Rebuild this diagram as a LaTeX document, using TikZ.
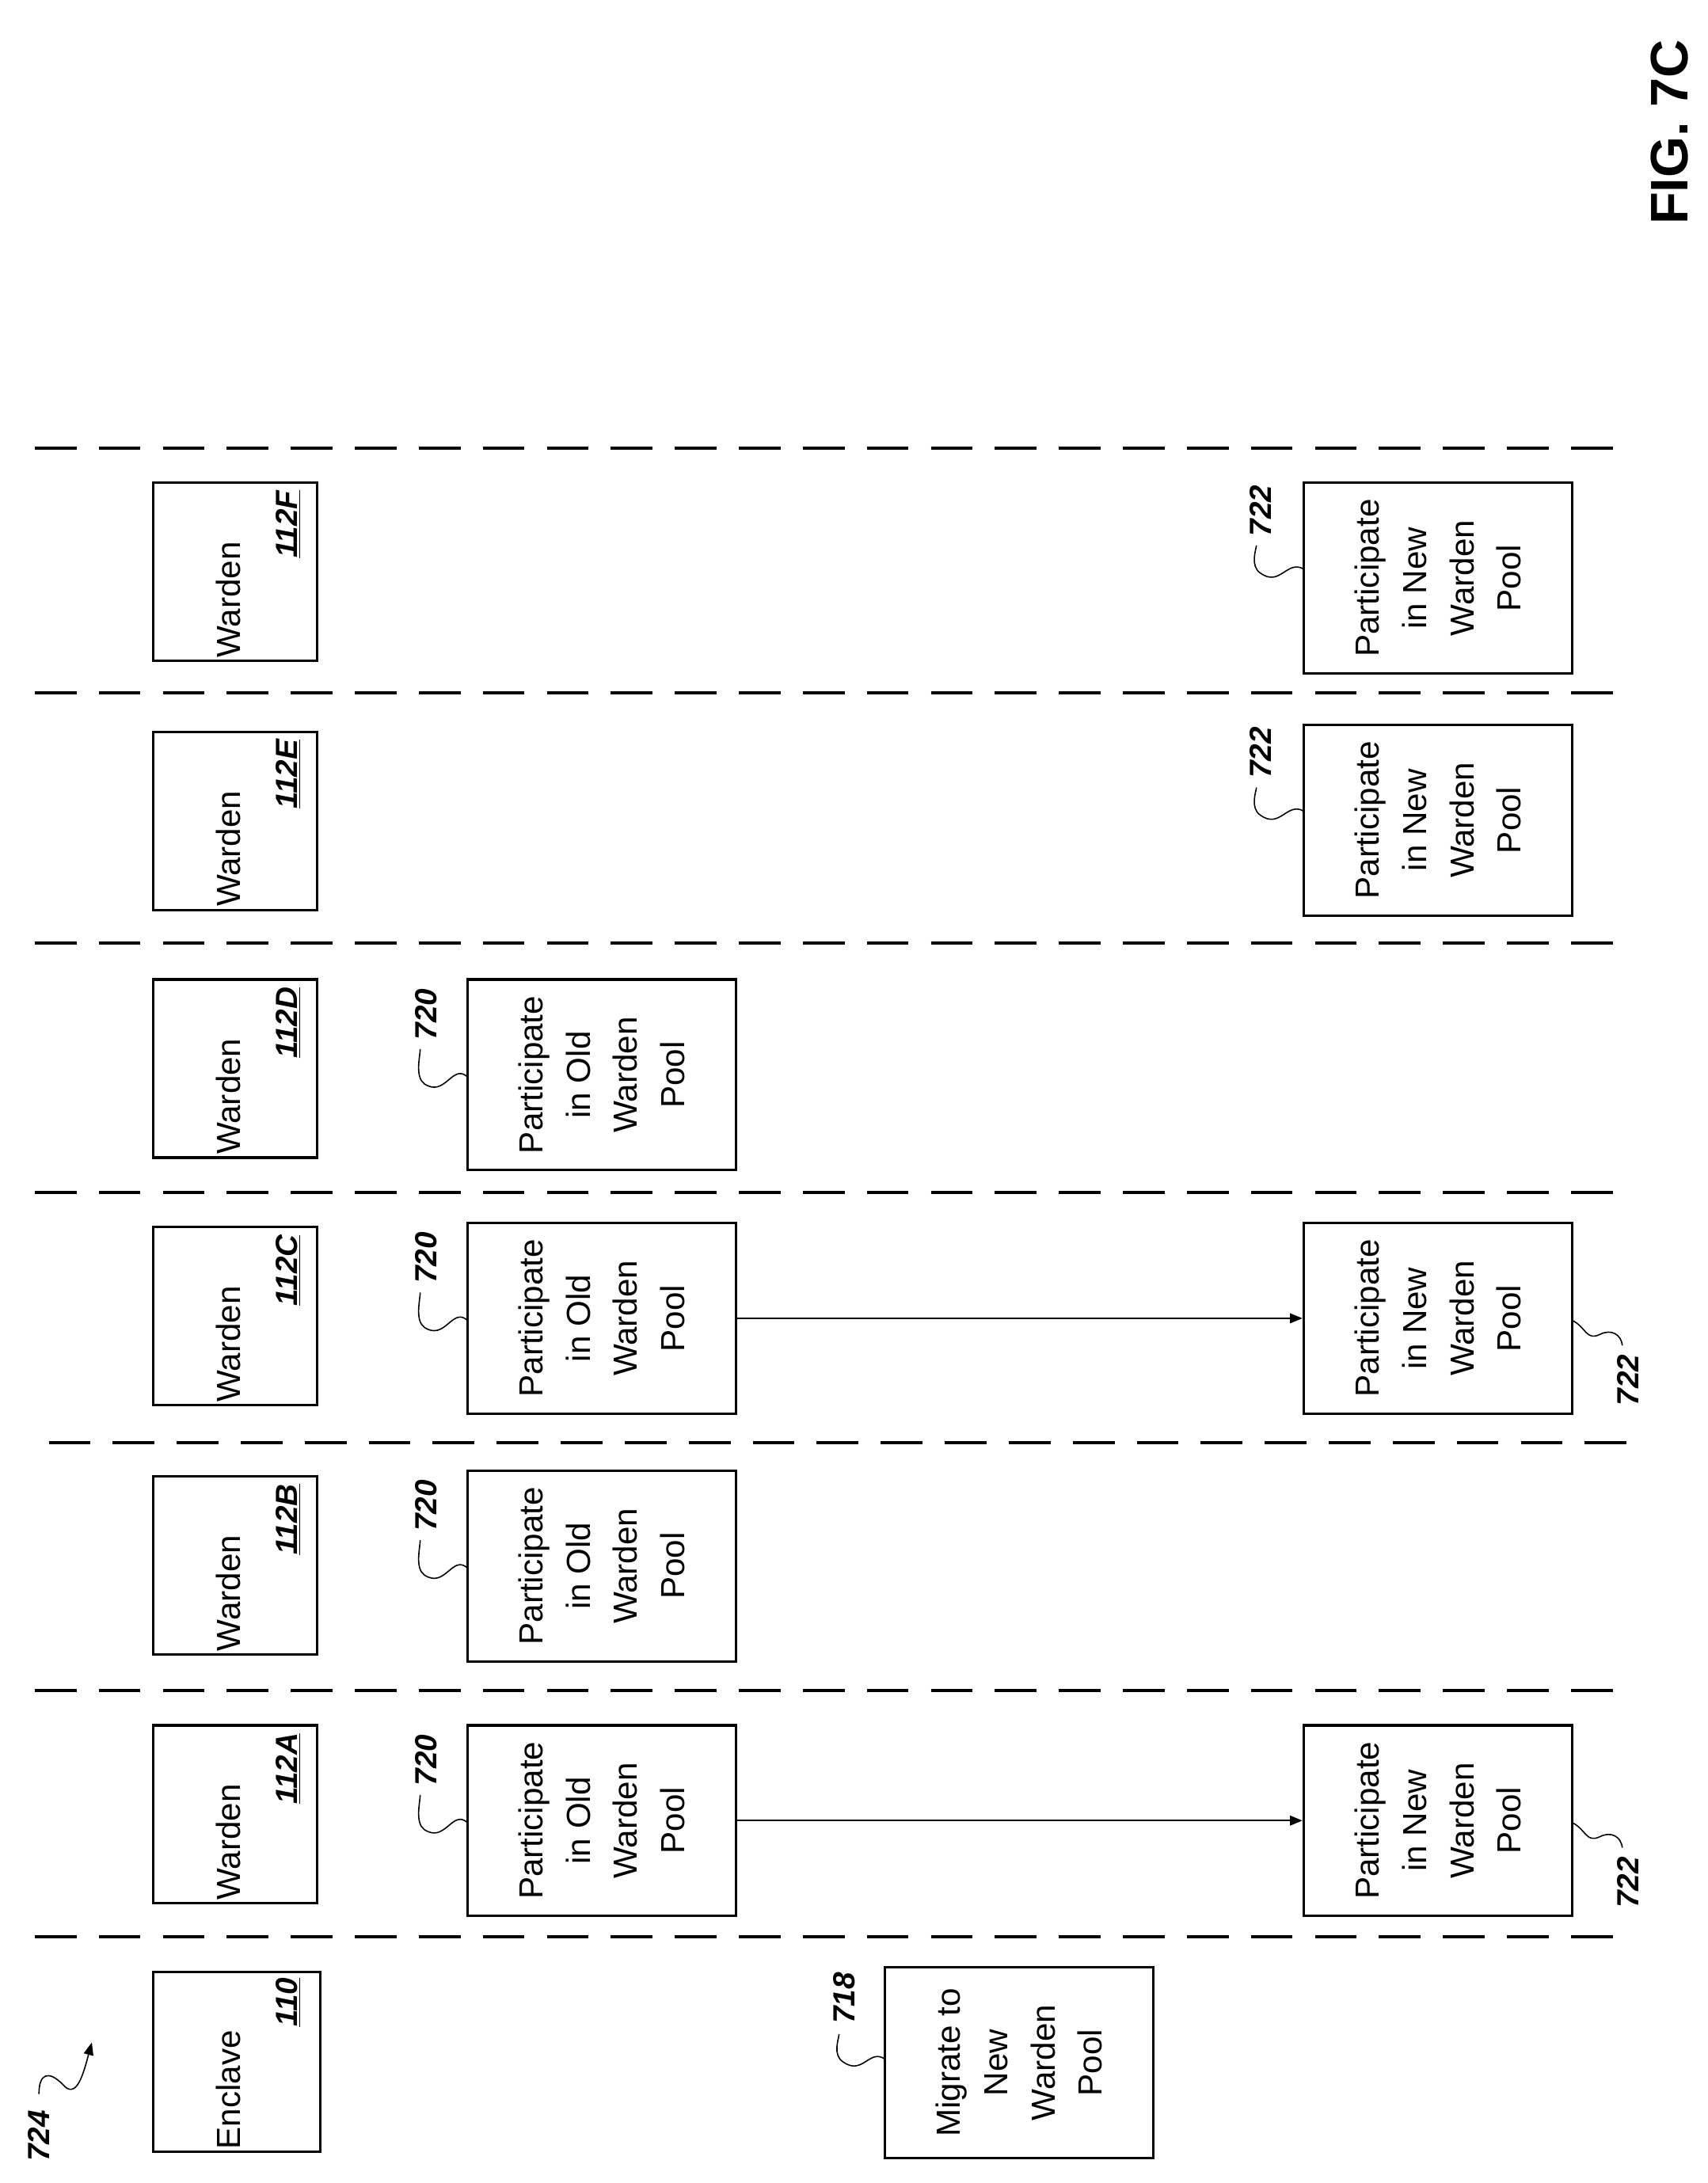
\documentclass[tikz,border=0pt]{standalone}
\usepackage{fontspec}
\setmainfont{Liberation Sans}
\usetikzlibrary{arrows.meta}
\begin{document}
\begin{tikzpicture}[x=1pt,y=-1pt,
 box/.style={draw,line width=1.8pt,inner sep=0pt},
 txt/.style={rotate=90,align=center,font=\fontsize{24}{34}\selectfont},
 num/.style={rotate=90,font=\fontsize{22}{26}\selectfont\bfseries\itshape},
 ref/.style={rotate=90,font=\fontsize{22}{26}\selectfont\bfseries\itshape},
 sep/.style={line width=2.2pt,dash pattern=on 30pt off 16pt},
 lead/.style={line width=0.9pt}]
\useasboundingbox (0,0) rectangle (1227,1569);
\foreach \y in {322,498,678,857,1215,1392}{\draw[sep] (25,\y) -- (1160,\y);}
\draw[sep] (35,1037) -- (1170,1037);
% wardens
\foreach \n/\yc/\l in {F/411/112F,E/590/112E,D/768/112D,C/946/112C,B/1125/112B,A/1304/112A}{
 \node[box,minimum width=118pt,minimum height=128pt] (w\n) at (169,\yc) {};
 \node[txt] at (164,\yc+20) {Warden};
 \node[num,anchor=east] at (207,\yc-62) {\underline{\l}};
}
\node[box,minimum width=120pt,minimum height=129pt] (enc) at (170,1482) {};
\node[txt] at (164,1482+20) {Enclave};
\node[num,anchor=east] at (207,1482-64) {\underline{110}};
% old pool
\foreach \n/\yt in {D/704,C/879,B/1057,A/1240}{
 \node[box,minimum width=193pt,minimum height=137pt] (o\n) at (432.5,\yt+68.5) {};
 \node[txt] at (o\n) {Participate\\in Old\\Warden\\Pool};
 \node[ref] (lo\n) at (306,\yt+25) {720};
 \draw[lead] (336,\yt+70) .. controls (325,\yt+60) and (320,\yt+85) .. (305,\yt+75) .. controls (298,\yt+70) and (302,\yt+55) .. (302,\yt+50);
}
% new pool
\foreach \n/\yt in {F/347,E/521,C/879,A/1240}{
 \node[box,minimum width=193pt,minimum height=137pt] (n\n) at (1033.5,\yt+68.5) {};
 \node[txt] at (n\n) {Participate\\in New\\Warden\\Pool};
}
\foreach \n/\yt in {F/347,E/521}{
 \node[ref] at (906,\yt+20) {722};
 \draw[lead] (937,\yt+62) .. controls (925,\yt+55) and (920,\yt+75) .. (906,\yt+65) .. controls (898,\yt+60) and (903,\yt+47) .. (903,\yt+45);
}
\foreach \n/\yt in {C/879,A/1240}{
 \node[ref] at (1170,\yt+113) {722};
 \draw[lead] (1130,\yt+70) .. controls (1140,\yt+75) and (1140,\yt+85) .. (1150,\yt+80) .. controls (1158,\yt+76) and (1165,\yt+80) .. (1166,\yt+88);
}
\draw[line width=1.3pt,-{Triangle[length=9pt,width=7pt]}] (oC.east) -- (nC.west);
\draw[line width=1.3pt,-{Triangle[length=9pt,width=7pt]}] (oA.east) -- (nA.west);
% migrate
\node[box,minimum width=193pt,minimum height=137pt] (mig) at (732.5,1482.5) {};
\node[txt] at (mig) {Migrate to\\New\\Warden\\Pool};
\node[ref] at (607,1436) {718};
\draw[lead] (636,1480) .. controls (625,1472) and (620,1492) .. (606,1482) .. controls (598,1477) and (603,1465) .. (603,1462);
% 724
\node[ref] at (28,1535) {724};
\draw[lead,-{Triangle[length=9pt,width=7pt]}] (28,1505) .. controls (28,1490) and (35,1488) .. (45,1498) .. controls (55,1510) and (60,1490) .. (66,1468);
\node[rotate=90,font=\fontsize{38}{40}\selectfont\bfseries] at (1200,95) {FIG. 7C};
\end{tikzpicture}
\end{document}
